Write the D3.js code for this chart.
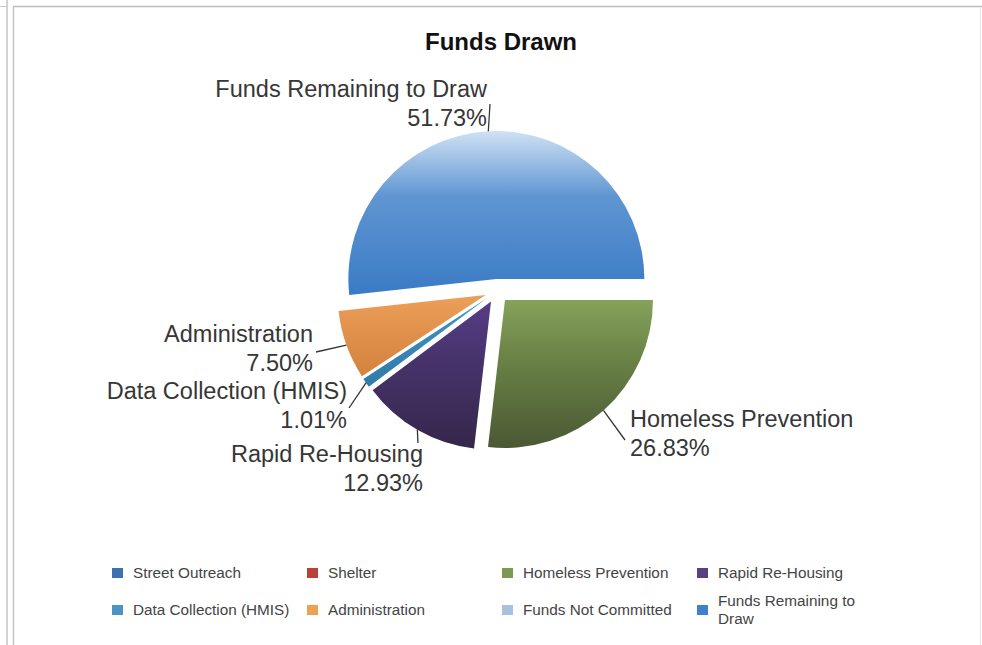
<!DOCTYPE html>
<html>
<head>
<meta charset="utf-8">
<script src="https://cdn.jsdelivr.net/npm/d3@7"></script>
<style>
body{margin:0;background:#fff;}
text{font-family:"Liberation Sans",Arial,sans-serif;}
</style>
</head>
<body>
<div id="chart"></div>
<script>
//data
let categories=[`Street Outreach`,`Shelter`,`Homeless Prevention`,`Rapid Re-Housing`,`Data Collection (HMIS)`,`Administration`,`Funds Not Committed`,`Funds Remaining to Draw`];
let percents=[0,0,26.83,12.93,1.01,7.50,0,51.73];

//colours (top, middle, bottom of each slice gradient) + legend swatches
let gradTop=[`#4a7cc0`,`#c4504a`,`#85a25b`,`#573d86`,`#4896c6`,`#eca05a`,`#b0c8e6`,`#cfe1f3`];
let gradMid=[`#3f6fb0`,`#b0463f`,`#6a8246`,`#47336b`,`#3d89ba`,`#e2924c`,`#9cb8dc`,`#5f95d2`];
let gradBottom=[`#2f5f9e`,`#983530`,`#4a5834`,`#35264a`,`#2f7aa8`,`#d3833d`,`#8aa8d0`,`#3a7bc5`];
let legendColors=[`#3d6fb2`,`#b8423a`,`#7d9a55`,`#5b3f83`,`#4a93c3`,`#f0a052`,`#a9c1e0`,`#3f82c9`];

let Setting={
    width:982,height:645,
    cx:497,cy:291,radius:148,explode:12,
    labelSize:23.5,legendSize:15.3
};

//label layout (text anchor point + end of leader line)
let labelLayout={
    [`Funds Remaining to Draw`]:{x:487,y:97,anchor:`end`,lx:490,ly:104},
    [`Homeless Prevention`]:{x:630,y:427,anchor:`start`,lx:625,ly:440},
    [`Rapid Re-Housing`]:{x:423,y:462,anchor:`end`,lx:418,ly:443},
    [`Data Collection (HMIS)`]:{x:347,y:399,anchor:`end`,lx:349,ly:408},
    [`Administration`]:{x:313,y:342,anchor:`end`,lx:316,ly:352}
};

let svg=d3.select(`#chart`).append(`svg`)
    .attr(`width`,Setting.width)
    .attr(`height`,Setting.height);

//frame
let frame=svg.append(`g`).attr(`class`,`frame`).attr(`fill`,`none`);
frame.append(`line`).attr(`x1`,7).attr(`x2`,7).attr(`y1`,0).attr(`y2`,645).attr(`stroke`,`#c4c4c4`).attr(`stroke-width`,1.5);
frame.append(`line`).attr(`x1`,13.5).attr(`x2`,13.5).attr(`y1`,6).attr(`y2`,645).attr(`stroke`,`#c4c4c4`).attr(`stroke-width`,1.5);
frame.append(`line`).attr(`x1`,0).attr(`x2`,7).attr(`y1`,6.5).attr(`y2`,6.5).attr(`stroke`,`#c8c8c8`);
frame.append(`line`).attr(`x1`,13).attr(`x2`,982).attr(`y1`,6.5).attr(`y2`,6.5).attr(`stroke`,`#bdbdbd`).attr(`stroke-width`,1.5);
frame.append(`line`).attr(`x1`,980.5).attr(`x2`,980.5).attr(`y1`,7).attr(`y2`,645).attr(`stroke`,`#e8e8e8`);

//gradients
let defs=svg.append(`defs`);
categories.forEach((c,i)=>{
    let g=defs.append(`linearGradient`).attr(`id`,`grad${i}`)
        .attr(`x1`,0).attr(`y1`,0).attr(`x2`,0).attr(`y2`,1);
    g.append(`stop`).attr(`offset`,`0%`).attr(`stop-color`,gradTop[i]);
    g.append(`stop`).attr(`offset`,`40%`).attr(`stop-color`,gradMid[i]);
    g.append(`stop`).attr(`offset`,`100%`).attr(`stop-color`,gradBottom[i]);
});

//title
svg.append(`text`)
    .attr(`x`,501).attr(`y`,50)
    .attr(`text-anchor`,`middle`)
    .attr(`font-weight`,`bold`)
    .attr(`font-size`,24)
    .attr(`fill`,`#111`)
    .text(`Funds Drawn`);

//pie
let data=categories.map((c,i)=>({name:c,value:percents[i],index:i}));

let pie=d3.pie().sort(null).value(d=>d.value)
    .startAngle(Math.PI/2).endAngle(Math.PI/2+2*Math.PI);
let arc=d3.arc().innerRadius(0).outerRadius(Setting.radius);
let arcs=pie(data).filter(d=>d.data.value>0);

let offset=(d,r)=>{
    let mid=(d.startAngle+d.endAngle)/2;
    return [Setting.cx+Math.sin(mid)*r,Setting.cy-Math.cos(mid)*r];
};

let graph=svg.append(`g`).attr(`class`,`pie`);
graph.selectAll(`path`)
    .data(arcs)
    .enter()
    .append(`path`)
    .attr(`d`,arc)
    .attr(`fill`,d=>`url(#grad${d.data.index})`)
    .attr(`transform`,d=>{
        let p=offset(d,Setting.explode);
        return `translate(${p[0]},${p[1]})`;
    });

//leader lines
let labels=svg.append(`g`).attr(`class`,`labels`);
labels.selectAll(`line`)
    .data(arcs)
    .enter()
    .append(`line`)
    .attr(`x1`,d=>offset(d,Setting.explode+Setting.radius)[0])
    .attr(`y1`,d=>offset(d,Setting.explode+Setting.radius)[1])
    .attr(`x2`,d=>labelLayout[d.data.name].lx)
    .attr(`y2`,d=>labelLayout[d.data.name].ly)
    .attr(`stroke`,`#333`)
    .attr(`stroke-width`,1.3);

//label text
let lt=labels.selectAll(`text`)
    .data(arcs)
    .enter()
    .append(`text`)
    .attr(`font-size`,Setting.labelSize)
    .attr(`fill`,`#363636`)
    .attr(`text-anchor`,d=>labelLayout[d.data.name].anchor);
lt.append(`tspan`)
    .attr(`x`,d=>labelLayout[d.data.name].x)
    .attr(`y`,d=>labelLayout[d.data.name].y)
    .text(d=>d.data.name);
lt.append(`tspan`)
    .attr(`x`,d=>labelLayout[d.data.name].x)
    .attr(`y`,d=>labelLayout[d.data.name].y+28.5)
    .text(d=>d3.format(`.2f`)(d.data.value)+`%`);

//legend
let legendX=d3.scalePoint().domain([0,1,2,3]).range([112,697]);
let legendY=d3.scalePoint().domain([0,1]).range([573,610]);
let legend=svg.append(`g`).attr(`class`,`legend`);
let item=legend.selectAll(`g`)
    .data(data)
    .enter()
    .append(`g`)
    .attr(`transform`,(d,i)=>`translate(${legendX(i%4)},${legendY(Math.floor(i/4))})`);
item.append(`rect`)
    .attr(`x`,0).attr(`y`,-5)
    .attr(`width`,11).attr(`height`,10)
    .attr(`fill`,(d,i)=>legendColors[i]);
item.each(function(d){
    let t=d3.select(this).append(`text`)
        .attr(`font-size`,Setting.legendSize)
        .attr(`fill`,`#444`)
        .attr(`x`,21);
    //wrap long names
    let words=d.name.split(` `),line=[],lines=[];
    let probe=t.append(`tspan`);
    words.forEach(w=>{
        line.push(w);
        probe.text(line.join(` `));
        if(probe.node().getComputedTextLength()>168&&line.length>1){
            line.pop();lines.push(line.join(` `));line=[w];
        }
    });
    lines.push(line.join(` `));
    probe.remove();
    let start=5-(lines.length-1)*17.5/2;
    lines.forEach((l,k)=>{
        t.append(`tspan`).attr(`x`,21).attr(`y`,start+k*17.5).text(l);
    });
});
</script>
</body>
</html>
